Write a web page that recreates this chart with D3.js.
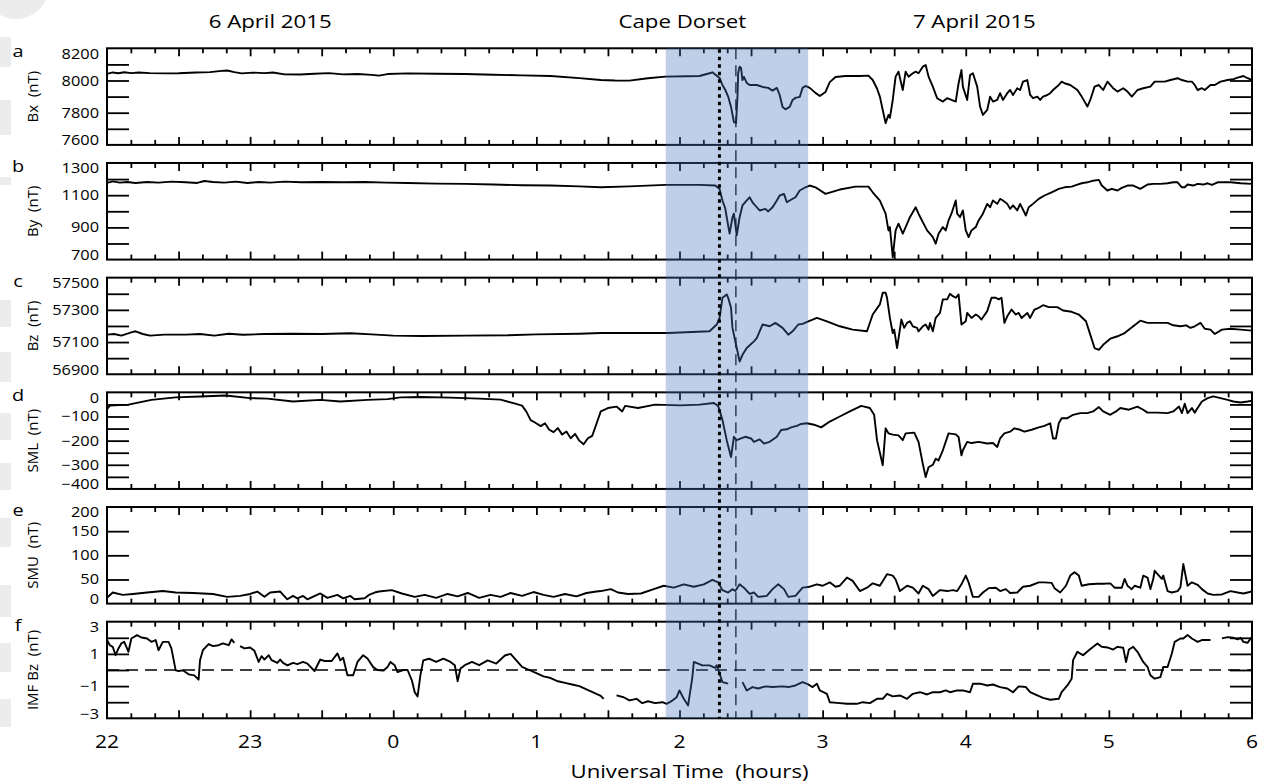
<!DOCTYPE html>
<html>
<head>
<meta charset="utf-8">
<script src="https://cdn.jsdelivr.net/npm/d3@7"></script>
<style>
  body { margin: 0; background: #fff; }
  svg { display: block; font-family: "Open Sans", sans-serif; }
</style>
</head>
<body>
<script>
// ---- data: [UT hours since 00 UT 6 April (22..30), value] ----
const bx = [[22.00,8041],[22.04,8050],[22.08,8045],[22.12,8051],[22.17,8046],[22.22,8050],[22.30,8046],[22.40,8044],[22.50,8045],[22.62,8050],[22.72,8052],[22.80,8060],[22.84,8062],[22.89,8052],[22.94,8044],[23.02,8049],[23.10,8046],[23.16,8050],[23.24,8038],[23.35,8037],[23.45,8042],[23.55,8046],[23.65,8038],[23.75,8040],[23.85,8035],[23.90,8030],[23.96,8040],[24.10,8044],[24.30,8042],[24.50,8040],[24.70,8036],[24.90,8032],[25.10,8028],[25.30,8015],[25.45,8003],[25.55,8000],[25.65,7999],[25.78,8014],[25.90,8024],[26.05,8026],[26.14,8028],[26.21,8045],[26.23,8051],[26.26,8030],[26.28,8016],[26.30,7972],[26.32,7941],[26.34,7900],[26.36,7836],[26.38,7742],[26.395,7736],[26.405,7898],[26.41,8047],[26.42,8086],[26.43,8078],[26.44,8003],[26.45,8022],[26.47,7985],[26.49,7972],[26.54,7972],[26.58,7960],[26.62,7954],[26.65,7937],[26.68,7954],[26.70,7910],[26.72,7836],[26.74,7821],[26.77,7836],[26.79,7879],[26.81,7892],[26.84,7898],[26.86,7954],[26.88,7966],[26.91,7954],[26.95,7923],[26.98,7904],[27.02,7929],[27.05,7990],[27.09,8022],[27.16,8028],[27.26,8028],[27.32,8030],[27.35,8003],[27.38,7950],[27.40,7900],[27.42,7817],[27.44,7735],[27.46,7786],[27.47,7768],[27.49,7879],[27.51,8024],[27.53,8055],[27.56,7941],[27.58,8055],[27.60,8024],[27.63,8045],[27.65,8055],[27.67,8045],[27.70,8086],[27.72,8096],[27.74,8024],[27.77,7962],[27.80,7890],[27.84,7869],[27.87,7890],[27.90,7879],[27.93,7869],[27.95,7983],[27.97,8065],[27.98,7962],[28.01,7879],[28.03,8034],[28.05,8045],[28.08,7962],[28.10,7838],[28.12,7786],[28.15,7817],[28.17,7900],[28.19,7869],[28.22,7879],[28.24,7921],[28.26,7879],[28.29,7921],[28.31,7941],[28.33,7910],[28.36,7952],[28.38,7941],[28.40,7993],[28.43,8003],[28.45,7910],[28.47,7890],[28.50,7900],[28.52,7879],[28.54,7900],[28.57,7910],[28.59,7921],[28.61,7941],[28.65,7972],[28.67,7993],[28.69,7983],[28.73,7972],[28.78,7941],[28.81,7900],[28.85,7838],[28.87,7879],[28.90,7962],[28.93,7972],[28.96,7941],[28.99,7993],[29.03,7952],[29.06,7931],[29.10,7952],[29.13,7931],[29.16,7900],[29.20,7941],[29.24,7952],[29.29,7962],[29.32,7993],[29.36,7993],[29.39,7993],[29.43,8003],[29.48,8014],[29.51,8003],[29.55,7993],[29.58,7993],[29.60,7972],[29.62,7941],[29.65,7952],[29.67,7941],[29.71,7972],[29.74,7972],[29.78,7993],[29.83,8003],[29.87,8008],[29.90,8018],[29.94,8028],[29.97,8014],[30.00,8003]];

const by = [[22.00,1176],[22.04,1186],[22.09,1178],[22.14,1182],[22.20,1176],[22.28,1182],[22.36,1178],[22.45,1184],[22.55,1180],[22.63,1176],[22.68,1188],[22.74,1182],[22.82,1178],[22.90,1184],[22.98,1176],[23.06,1182],[23.14,1178],[23.24,1184],[23.36,1180],[23.50,1182],[23.65,1180],[23.80,1182],[23.95,1178],[24.10,1176],[24.30,1172],[24.50,1170],[24.70,1166],[24.90,1162],[25.10,1160],[25.30,1155],[25.45,1149],[25.65,1155],[25.90,1164],[26.14,1164],[26.25,1160],[26.28,1139],[26.30,1067],[26.32,1017],[26.33,963],[26.35,861],[26.37,963],[26.38,986],[26.40,850],[26.42,963],[26.44,1036],[26.47,1067],[26.49,1087],[26.51,1056],[26.54,1025],[26.56,1005],[26.60,1015],[26.62,999],[26.65,1025],[26.68,1067],[26.70,1098],[26.73,1108],[26.75,1056],[26.77,1067],[26.81,1087],[26.84,1129],[26.88,1149],[26.91,1160],[26.95,1149],[27.02,1108],[27.12,1135],[27.23,1153],[27.32,1153],[27.35,1118],[27.40,1066],[27.44,985],[27.46,881],[27.47,902],[27.49,715],[27.51,881],[27.53,923],[27.56,861],[27.58,902],[27.61,963],[27.65,1025],[27.67,985],[27.70,933],[27.73,881],[27.77,840],[27.79,799],[27.81,861],[27.84,902],[27.86,881],[27.88,943],[27.90,985],[27.93,1067],[27.94,985],[27.96,963],[27.98,1005],[28.00,881],[28.02,840],[28.04,881],[28.07,902],[28.09,943],[28.12,985],[28.15,1046],[28.17,1025],[28.19,1067],[28.22,1046],[28.24,1077],[28.26,1067],[28.29,1046],[28.31,1015],[28.33,1036],[28.36,1005],[28.38,1046],[28.42,974],[28.44,1025],[28.47,1046],[28.51,1077],[28.55,1098],[28.60,1118],[28.65,1139],[28.69,1149],[28.74,1153],[28.78,1166],[28.81,1174],[28.85,1180],[28.89,1190],[28.93,1195],[28.95,1160],[28.99,1129],[29.02,1139],[29.06,1129],[29.09,1145],[29.13,1160],[29.17,1160],[29.22,1139],[29.27,1166],[29.31,1170],[29.36,1170],[29.41,1174],[29.45,1180],[29.48,1180],[29.51,1149],[29.53,1149],[29.55,1166],[29.59,1160],[29.62,1170],[29.66,1166],[29.69,1174],[29.72,1164],[29.76,1180],[29.80,1180],[29.85,1180],[29.92,1174],[30.00,1170]];

const bz = [[22.00,57146],[22.05,57150],[22.10,57140],[22.17,57160],[22.20,57167],[22.25,57150],[22.30,57140],[22.40,57146],[22.55,57146],[22.65,57150],[22.75,57140],[22.85,57152],[22.95,57145],[23.10,57150],[23.30,57152],[23.50,57150],[23.70,57155],[23.85,57148],[24.00,57140],[24.20,57138],[24.50,57140],[24.80,57142],[25.00,57148],[25.30,57152],[25.45,57156],[25.68,57156],[25.92,57156],[26.21,57167],[26.26,57209],[26.28,57250],[26.30,57375],[26.33,57396],[26.34,57375],[26.36,57313],[26.37,57188],[26.40,57063],[26.42,56979],[26.44,57021],[26.47,57063],[26.52,57104],[26.54,57125],[26.58,57209],[26.63,57198],[26.67,57219],[26.72,57188],[26.76,57146],[26.79,57167],[26.83,57209],[26.86,57213],[26.90,57229],[26.96,57250],[27.03,57229],[27.12,57198],[27.21,57177],[27.31,57167],[27.35,57271],[27.40,57334],[27.42,57406],[27.44,57406],[27.45,57375],[27.47,57250],[27.49,57156],[27.50,57177],[27.52,57063],[27.53,57120],[27.55,57240],[27.57,57188],[27.59,57219],[27.61,57229],[27.63,57198],[27.66,57188],[27.67,57167],[27.70,57198],[27.72,57209],[27.74,57177],[27.75,57219],[27.77,57167],[27.79,57250],[27.82,57281],[27.84,57365],[27.87,57365],[27.89,57400],[27.91,57385],[27.93,57375],[27.95,57396],[27.97,57209],[28.00,57229],[28.01,57281],[28.04,57250],[28.07,57271],[28.09,57260],[28.11,57240],[28.15,57292],[28.18,57375],[28.21,57375],[28.23,57365],[28.25,57375],[28.27,57219],[28.29,57260],[28.32,57302],[28.35,57271],[28.37,57281],[28.39,57250],[28.43,57281],[28.45,57250],[28.48,57302],[28.51,57313],[28.54,57329],[28.58,57317],[28.64,57317],[28.68,57296],[28.74,57288],[28.79,57271],[28.84,57229],[28.87,57146],[28.90,57063],[28.93,57052],[28.96,57083],[29.01,57121],[29.06,57136],[29.11,57156],[29.17,57198],[29.22,57233],[29.27,57219],[29.34,57219],[29.41,57219],[29.45,57204],[29.50,57198],[29.54,57204],[29.57,57188],[29.60,57198],[29.64,57219],[29.67,57183],[29.71,57177],[29.74,57150],[29.79,57177],[29.85,57183],[29.92,57177],[30.00,57171]];

const sml = [[22.00,-70],[22.02,-55],[22.15,-51],[22.31,-31],[22.48,-21],[22.65,-17],[22.83,-13],[23.00,-24],[23.12,-26],[23.30,-38],[23.49,-31],[23.63,-38],[23.82,-31],[23.96,-28],[24.05,-21],[24.19,-19],[24.40,-22],[24.60,-26],[24.75,-30],[24.84,-45],[24.90,-55],[24.93,-80],[24.96,-115],[24.99,-125],[25.03,-140],[25.06,-128],[25.09,-155],[25.12,-165],[25.15,-148],[25.18,-175],[25.21,-162],[25.24,-190],[25.27,-172],[25.30,-200],[25.33,-215],[25.36,-190],[25.39,-180],[25.42,-130],[25.45,-79],[25.50,-65],[25.56,-59],[25.60,-79],[25.62,-56],[25.71,-65],[25.83,-51],[26.01,-54],[26.14,-51],[26.24,-44],[26.27,-56],[26.30,-114],[26.33,-198],[26.36,-268],[26.38,-184],[26.40,-198],[26.43,-191],[26.46,-184],[26.50,-191],[26.52,-205],[26.56,-195],[26.59,-212],[26.63,-205],[26.68,-184],[26.71,-156],[26.75,-153],[26.78,-145],[26.82,-139],[26.85,-131],[26.89,-128],[26.94,-134],[26.99,-145],[27.05,-121],[27.12,-100],[27.19,-79],[27.27,-56],[27.33,-65],[27.36,-93],[27.38,-198],[27.42,-302],[27.44,-149],[27.46,-170],[27.49,-175],[27.53,-178],[27.56,-198],[27.58,-170],[27.64,-167],[27.67,-205],[27.70,-296],[27.72,-351],[27.74,-310],[27.77,-300],[27.79,-275],[27.81,-282],[27.84,-240],[27.88,-170],[27.93,-174],[27.95,-185],[27.97,-261],[27.98,-240],[28.01,-205],[28.04,-210],[28.09,-205],[28.15,-212],[28.19,-210],[28.22,-226],[28.24,-191],[28.27,-170],[28.31,-163],[28.34,-149],[28.38,-155],[28.41,-163],[28.46,-155],[28.51,-145],[28.55,-139],[28.59,-128],[28.61,-191],[28.63,-191],[28.65,-128],[28.67,-107],[28.71,-107],[28.75,-93],[28.80,-86],[28.85,-86],[28.89,-79],[28.93,-61],[28.96,-79],[29.01,-93],[29.05,-79],[29.08,-65],[29.14,-72],[29.20,-59],[29.24,-72],[29.27,-84],[29.34,-84],[29.41,-86],[29.45,-79],[29.49,-59],[29.51,-86],[29.53,-47],[29.55,-86],[29.58,-65],[29.60,-84],[29.62,-65],[29.65,-38],[29.69,-24],[29.73,-17],[29.78,-24],[29.83,-31],[29.87,-38],[29.92,-42],[29.97,-38],[30.00,-35]];

const smu = [[22.00,12],[22.04,23],[22.11,18],[22.18,20],[22.28,23],[22.39,26],[22.48,23],[22.60,22],[22.74,20],[22.84,14],[22.93,16],[23.00,20],[23.05,25],[23.10,14],[23.14,23],[23.21,25],[23.26,9],[23.30,16],[23.33,11],[23.37,16],[23.40,9],[23.49,21],[23.54,12],[23.61,18],[23.65,11],[23.70,16],[23.73,9],[23.80,11],[23.83,18],[23.87,23],[23.90,25],[23.99,28],[24.06,21],[24.15,14],[24.22,18],[24.30,12],[24.38,20],[24.45,15],[24.52,22],[24.60,12],[24.68,18],[24.75,14],[24.82,22],[24.90,16],[24.98,24],[25.05,18],[25.12,14],[25.20,20],[25.28,15],[25.35,22],[25.42,25],[25.45,26],[25.52,30],[25.57,23],[25.64,20],[25.73,21],[25.82,30],[25.89,37],[25.96,33],[26.03,40],[26.10,35],[26.17,40],[26.23,49],[26.27,44],[26.30,28],[26.34,23],[26.37,30],[26.39,26],[26.42,40],[26.45,33],[26.49,20],[26.52,23],[26.55,14],[26.61,16],[26.65,30],[26.69,40],[26.73,30],[26.76,14],[26.81,16],[26.86,33],[26.91,35],[26.96,40],[27.00,37],[27.05,44],[27.09,35],[27.12,37],[27.17,54],[27.21,47],[27.26,26],[27.31,33],[27.35,42],[27.40,37],[27.45,61],[27.49,58],[27.51,50],[27.54,26],[27.59,37],[27.63,33],[27.67,21],[27.70,37],[27.74,30],[27.77,16],[27.82,28],[27.87,26],[27.91,28],[27.94,26],[27.97,40],[28.00,58],[28.02,44],[28.05,14],[28.09,14],[28.12,23],[28.16,32],[28.21,33],[28.24,26],[28.28,30],[28.31,22],[28.36,23],[28.40,35],[28.45,37],[28.51,44],[28.55,44],[28.60,43],[28.62,32],[28.66,23],[28.70,37],[28.73,58],[28.76,65],[28.79,58],[28.81,37],[28.86,40],[28.92,41],[28.96,41],[29.01,42],[29.04,33],[29.09,33],[29.11,51],[29.13,37],[29.16,30],[29.18,37],[29.22,33],[29.24,58],[29.27,54],[29.29,30],[29.31,51],[29.32,68],[29.34,61],[29.37,51],[29.38,58],[29.41,26],[29.44,23],[29.48,26],[29.50,34],[29.52,82],[29.55,37],[29.58,44],[29.62,39],[29.65,30],[29.69,21],[29.73,18],[29.79,19],[29.85,26],[29.90,23],[29.94,21],[30.00,25]];

// null = data gap
const imfBz = [[22.00,1.86],[22.02,1.54],[22.04,1.44],[22.06,0.92],[22.08,1.34],[22.10,1.65],[22.12,1.75],[22.14,1.34],[22.15,1.13],[22.17,1.96],[22.21,2.17],[22.24,2.02],[22.28,1.96],[22.31,1.75],[22.34,1.86],[22.36,1.23],[22.39,1.75],[22.43,1.75],[22.45,1.34],[22.48,-0.02],[22.50,-0.06],[22.53,-0.02],[22.57,-0.27],[22.61,-0.33],[22.64,-0.60],[22.65,0.61],[22.67,1.23],[22.71,1.61],[22.74,1.48],[22.78,1.54],[22.81,1.65],[22.85,1.54],[22.87,1.90],[22.89,1.69],[22.91,null],[22.93,1.48],[22.96,1.34],[23.00,1.40],[23.03,1.19],[23.06,0.50],[23.08,0.86],[23.10,0.65],[23.13,0.92],[23.15,0.61],[23.19,0.44],[23.21,0.65],[23.23,0.44],[23.26,0.29],[23.30,0.44],[23.33,0.36],[23.37,0.50],[23.40,0.40],[23.45,-0.06],[23.49,0.65],[23.52,0.56],[23.57,0.56],[23.61,1.03],[23.63,0.60],[23.65,0.76],[23.68,-0.33],[23.72,-0.33],[23.75,0.50],[23.79,0.92],[23.82,0.71],[23.86,0.18],[23.89,0.00],[23.93,-0.04],[23.96,0.18],[23.98,0.50],[24.01,0.29],[24.03,-0.13],[24.07,0.00],[24.10,0.00],[24.13,-0.64],[24.15,-1.38],[24.17,-1.64],[24.19,-0.30],[24.21,0.60],[24.25,0.70],[24.30,0.50],[24.35,0.70],[24.40,0.50],[24.43,0.30],[24.45,-0.70],[24.47,0.10],[24.50,0.30],[24.55,0.50],[24.60,0.30],[24.66,0.60],[24.72,0.40],[24.78,0.90],[24.82,1.00],[24.86,0.60],[24.90,0.20],[24.95,0.00],[25.00,-0.20],[25.05,-0.40],[25.10,-0.50],[25.15,-0.70],[25.20,-0.80],[25.25,-0.90],[25.30,-1.00],[25.35,-1.20],[25.40,-1.40],[25.45,-1.60],[25.47,-1.80],[25.50,null],[25.56,-1.58],[25.61,-1.69],[25.65,-1.89],[25.70,-1.79],[25.74,-2.06],[25.78,-1.94],[25.83,-2.06],[25.88,-2.00],[25.91,-2.10],[25.95,-1.90],[25.98,-1.69],[26.00,-1.27],[26.03,-1.79],[26.06,-2.20],[26.09,-0.44],[26.10,0.50],[26.13,0.40],[26.16,0.29],[26.21,0.29],[26.25,0.13],[26.26,0.29],[26.28,-0.23],[26.30,-0.75],[26.34,-0.85],[26.38,null],[26.44,-0.75],[26.47,-1.27],[26.51,-1.06],[26.55,-1.15],[26.60,-1.02],[26.65,-1.06],[26.72,-1.02],[26.76,-1.06],[26.81,-0.96],[26.86,-0.75],[26.90,-0.90],[26.93,-1.06],[26.96,-0.85],[26.98,-1.27],[27.03,-1.48],[27.05,-2.00],[27.10,-2.04],[27.17,-2.10],[27.24,-2.10],[27.28,-2.00],[27.33,-2.06],[27.38,-1.79],[27.42,-1.79],[27.45,-1.48],[27.49,-1.64],[27.54,-1.58],[27.59,-1.79],[27.63,-1.48],[27.68,-1.38],[27.73,-1.52],[27.77,-1.38],[27.82,-1.38],[27.86,-1.27],[27.89,-1.38],[27.94,-1.27],[27.98,-1.27],[28.03,-1.38],[28.05,-0.85],[28.10,-0.85],[28.15,-0.96],[28.19,-0.90],[28.24,-1.06],[28.29,-1.15],[28.33,-1.38],[28.37,-1.02],[28.42,-1.06],[28.45,-1.38],[28.50,-1.58],[28.54,-1.73],[28.59,-1.85],[28.65,-1.79],[28.67,-1.38],[28.71,-0.96],[28.74,-0.54],[28.75,0.61],[28.78,1.13],[28.80,1.02],[28.82,0.92],[28.86,1.23],[28.92,1.65],[28.95,1.44],[28.99,1.40],[29.03,1.27],[29.06,1.44],[29.10,1.38],[29.12,0.50],[29.14,1.27],[29.17,1.44],[29.20,1.13],[29.24,0.50],[29.27,0.19],[29.29,-0.33],[29.32,-0.54],[29.36,-0.44],[29.38,0.19],[29.41,0.19],[29.44,1.02],[29.46,1.75],[29.50,1.96],[29.52,1.96],[29.55,2.17],[29.58,1.96],[29.62,1.75],[29.65,1.86],[29.71,1.86],[29.75,null],[29.79,1.96],[29.83,2.04],[29.87,2.00],[29.90,1.90],[29.92,2.00],[29.94,1.75],[29.97,1.69],[29.99,1.96],[30.00,2.00]];

const hourTicks = [22, 23, 24, 25, 26, 27, 28, 29, 30];
const hourLabels = ["22", "23", "0", "1", "2", "3", "4", "5", "6"];
const headings = [["6 April 2015", 23.14], ["Cape Dorset", 26.02], ["7 April 2015", 28.06]];
const shadeUT = [25.904, 26.899];   // Cape Dorset interval
const onsetUT = 26.279;             // dotted line
const peakUT = 26.394;              // dashed line

const panels = [
  { letter: "a", title: "Bx  (nT)", data: bx, domain: [7600, 8200], step: 100, labels: [8200, 8000, 7800, 7600] },
  { letter: "b", title: "By  (nT)", data: by, domain: [700, 1300], step: 100, labels: [1300, 1100, 900, 700] },
  { letter: "c", title: "Bz  (nT)", data: bz, domain: [56900, 57500], step: 100, labels: [57500, 57300, 57100, 56900] },
  { letter: "d", title: "SML  (nT)", data: sml, domain: [-400, 0], step: 50, labels: [0, -100, -200, -300, -400] },
  { letter: "e", title: "SMU  (nT)", data: smu, domain: [0, 200], step: 50, labels: [200, 150, 100, 50, 0] },
  { letter: "f", title: "IMF Bz  (nT)", data: imfBz, domain: [-3, 3], step: 1, labels: [3, 1, -1, -3], zero: true }
];

// ---- layout ----
const W = 1264, H = 783;
const left = 107, right = 1252;
const top0 = 48.3, pitch = 114.68, ph = 96.6;
const sx = 1.17; // the original figure is a bit stretched horizontally

const svg = d3.select("body").append("svg").attr("width", W).attr("height", H);
svg.append("rect").attr("width", W).attr("height", H).attr("fill", "#fff");

// faint page marks along the left edge of the scan
const edgeMarks = [[37, 67], [100, 135], [177, 185], [300, 327], [352, 382], [413, 440], [463, 490], [518, 547], [585, 617], [643, 672], [699, 727]];
svg.append("circle").attr("cx", 16).attr("cy", -14).attr("r", 33).attr("fill", "#ececec");
svg.selectAll(".edge").data(edgeMarks).enter().append("rect")
  .attr("x", 0).attr("y", d => d[0]).attr("width", 11).attr("height", d => d[1] - d[0])
  .attr("fill", "#ececec");

const x = d3.scaleLinear().domain([22, 30]).range([left, right]);

function sText(parent, px, py, str, size, anchor) {
  return parent.append("text")
    .attr("transform", `translate(${px},${py}) scale(${sx},1)`)
    .attr("text-anchor", anchor)
    .style("font-size", size + "px")
    .attr("fill", "#000")
    .text(str);
}

const majorT = d3.range(1, 16).map(i => 22 + i / 2);
const minorT = d3.range(1, 48).filter(i => i % 3 !== 0).map(i => 22 + i / 6);

const lastBottom = top0 + 5 * pitch + ph;

panels.forEach((p, i) => {
  const top = top0 + i * pitch, bot = top + ph;
  const y = d3.scaleLinear().domain(p.domain).range([bot, top]);
  const g = svg.append("g");

  g.append("clipPath").attr("id", "clip" + i)
    .append("rect").attr("x", left).attr("y", top).attr("width", right - left).attr("height", ph);

  if (p.zero) {
    g.append("line")
      .attr("x1", left).attr("x2", right).attr("y1", y(0)).attr("y2", y(0))
      .attr("stroke", "#000").attr("stroke-width", 1.6).attr("stroke-dasharray", "12,7");
  }

  // ticks through d3 axes, all pointing inward
  const yt = d3.range(p.domain[0] + p.step, p.domain[1] - p.step / 2, p.step);
  g.append("g").attr("transform", `translate(${left},0)`)
    .call(d3.axisLeft(y).tickValues(yt).tickSize(-22).tickFormat(""));
  g.append("g").attr("transform", `translate(${right},0)`)
    .call(d3.axisRight(y).tickValues(yt).tickSize(-22).tickFormat(""));
  [[minorT, 5], [majorT, 8]].forEach(([vals, len]) => {
    g.append("g").attr("transform", `translate(0,${bot})`)
      .call(d3.axisBottom(x).tickValues(vals).tickSize(-len).tickFormat(""));
    g.append("g").attr("transform", `translate(0,${top})`)
      .call(d3.axisTop(x).tickValues(vals).tickSize(-len).tickFormat(""));
  });
  g.selectAll(".domain").remove();
  g.selectAll(".tick line").attr("stroke", "#000").attr("stroke-width", 1.8);

  // the trace
  g.append("path").datum(p.data)
    .attr("clip-path", `url(#clip${i})`)
    .attr("fill", "none").attr("stroke", "#000").attr("stroke-width", 1.9)
    .attr("stroke-linejoin", "round")
    .attr("d", d3.line().defined(d => d[1] !== null).x(d => x(d[0])).y(d => y(d[1])));

  g.append("rect").attr("x", left).attr("y", top).attr("width", right - left).attr("height", ph)
    .attr("fill", "none").attr("stroke", "#000").attr("stroke-width", 2);

  // tick labels: ends kept inside the frame, others centred
  p.labels.forEach(v => {
    let py = y(v) + 5;
    if (v === p.domain[1]) py = top + 10.3;
    if (v === p.domain[0]) py = bot + 0.3;
    sText(g, 99, py, d3.format("")(v), 14, "end");
  });

  sText(g, 18, top + 9, p.letter, 17, "middle");

  g.append("text")
    .attr("transform", `translate(38,${top + ph / 2}) rotate(-90)`)
    .attr("text-anchor", "middle")
    .style("font-size", "15px")
    .style("white-space", "pre")
    .text(p.title);
});

// hour labels along the bottom
hourTicks.forEach((h, k) => sText(svg, x(h), 748, hourLabels[k], 18, "middle"));
sText(svg, (left + right) / 2 + 10, 778, "Universal Time  (hours)", 19, "middle").style("white-space", "pre");

headings.forEach(([t, h]) => sText(svg, x(h), 27.5, t, 19, "middle"));

// event markers and shaded interval
svg.append("line")
  .attr("x1", x(peakUT)).attr("x2", x(peakUT)).attr("y1", top0).attr("y2", lastBottom)
  .attr("stroke", "#000").attr("stroke-width", 1.3).attr("stroke-dasharray", "11,6");

svg.append("rect")
  .attr("x", x(shadeUT[0])).attr("width", x(shadeUT[1]) - x(shadeUT[0]))
  .attr("y", top0).attr("height", lastBottom - top0)
  .attr("fill", "rgb(72,116,188)").attr("fill-opacity", 0.345);

svg.append("line")
  .attr("x1", x(onsetUT)).attr("x2", x(onsetUT)).attr("y1", top0 + 1).attr("y2", lastBottom)
  .attr("stroke", "#000").attr("stroke-width", 3).attr("stroke-dasharray", "3.5,4");
</script>
</body>
</html>
